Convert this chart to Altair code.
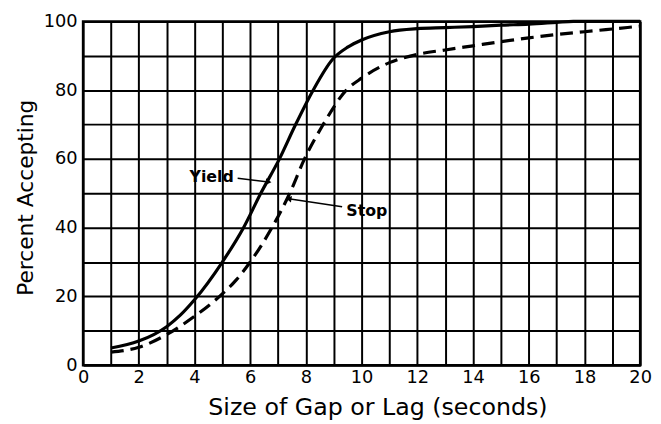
import altair as alt
import pandas as pd

# Yield (solid) curve
yield_x = [1, 2, 3, 3.5, 4, 5, 5.76, 6.38, 7.05, 7.63, 8.26, 8.96, 9.5, 10, 11, 12, 13, 14, 15, 16, 17, 17.6, 20]
yield_y = [5.0, 7.0, 11.2, 14.6, 19.0, 30, 40, 50, 60, 70, 80, 89, 92.5, 94.6, 97.0, 97.9, 98.2, 98.5, 98.9, 99.2, 99.7, 100, 100]

# Stop (dashed) curve
stop_x = [1, 2, 3, 4, 4.9, 5.5, 6.0, 6.78, 7.42, 7.95, 8.62, 9.45, 10, 11, 12, 13, 14, 15, 16, 17, 18, 19, 20]
stop_y = [3.8, 5.2, 8.9, 14.2, 20, 24.8, 30, 40, 50, 60, 70, 80, 83.5, 88, 90.4, 91.7, 92.9, 94.1, 95.2, 96.2, 97.0, 97.8, 98.6]

# Annotations
label_text = ["Yield", "Stop"]
label_x = [3.82, 9.45]
label_y = [54.6, 44.7]
arrow_x = [5.55, 9.3]
arrow_y = [54.4, 46.1]
arrow_x2 = [6.66, 7.38]
arrow_y2 = [53.3, 48.4]
arrow_shape = ["triangle-right", "triangle-left"]
arrow_angle = [7, 9]

FONT = "DejaVu Sans"

yield_df = pd.DataFrame({"x": yield_x, "y": yield_y})
stop_df = pd.DataFrame({"x": stop_x, "y": stop_y})
lab_df = pd.DataFrame({"t": label_text, "x": label_x, "y": label_y})
arr_df = pd.DataFrame({"x": arrow_x, "y": arrow_y, "x2": arrow_x2, "y2": arrow_y2,
                       "shape": arrow_shape, "angle": arrow_angle})

xscale = alt.Scale(domain=[0, 20], nice=False, zero=False)
yscale = alt.Scale(domain=[0, 100], nice=False)

xaxis = alt.Axis(values=list(range(0, 21)),
                 labelExpr="datum.value % 2 == 0 ? datum.label : ''",
                 labelOverlap=False,
                 title="Size of Gap or Lag (seconds)",
                 grid=True, gridColor="black", gridWidth=2, gridOpacity=1,
                 domain=False, ticks=False, labelPadding=4,
                 labelFont=FONT, labelFontSize=18, labelColor="black",
                 titleFont=FONT, titleFontSize=24, titleFontWeight="normal",
                 titleColor="black", titlePadding=9, titleX=298,
                 labelFlush=False)
yaxis = alt.Axis(values=list(range(0, 101, 10)),
                 labelExpr="datum.value % 20 == 0 ? datum.label : ''",
                 labelOverlap=False,
                 title="Percent Accepting",
                 grid=True, gridColor="black", gridWidth=2, gridOpacity=1,
                 domain=False, ticks=False, labelPadding=6,
                 labelFont=FONT, labelFontSize=18, labelColor="black",
                 titleFont=FONT, titleFontSize=22, titleFontWeight="normal",
                 titleColor="black", titleX=-58, titleY=178, titleAngle=-90,
                 titleAlign="center", titleBaseline="middle", labelFlush=False)

X = alt.X("x:Q", scale=xscale, axis=xaxis)
Y = alt.Y("y:Q", scale=yscale, axis=yaxis)

yield_line = alt.Chart(yield_df).mark_line(color="black", strokeWidth=3.2, interpolate="monotone").encode(
    x=X, y=Y)
stop_line = alt.Chart(stop_df).mark_line(color="black", strokeWidth=3.2, strokeDash=[13, 7],
                                         interpolate="monotone").encode(x=X, y=Y)

labels = alt.Chart(lab_df).mark_text(font=FONT, fontSize=16, fontWeight="bold", color="black",
                                     baseline="middle", align="left").encode(
    x=X, y=Y, text="t:N")

arrows = alt.Chart(arr_df).mark_rule(color="black", strokeWidth=1.5).encode(
    x=X, y=Y, x2="x2:Q", y2="y2:Q")
heads = alt.Chart(arr_df).mark_point(filled=True, color="black", size=45, opacity=1).encode(
    x=alt.X("x2:Q", scale=xscale, axis=xaxis), y=alt.Y("y2:Q", scale=yscale, axis=yaxis),
    shape=alt.Shape("shape:N", scale=None), angle=alt.Angle("angle:Q", scale=None))

chart = alt.layer(yield_line, stop_line, arrows, heads, labels).properties(
    width=564, height=348,
    autosize=alt.AutoSizeParams(type="none"),
    padding={"left": 76, "top": 11, "right": 13, "bottom": 57},
    background="white",
).configure_view(stroke="black", strokeWidth=2.5)

chart.save("out.html", embed_options={"renderer": "svg", "actions": False})
